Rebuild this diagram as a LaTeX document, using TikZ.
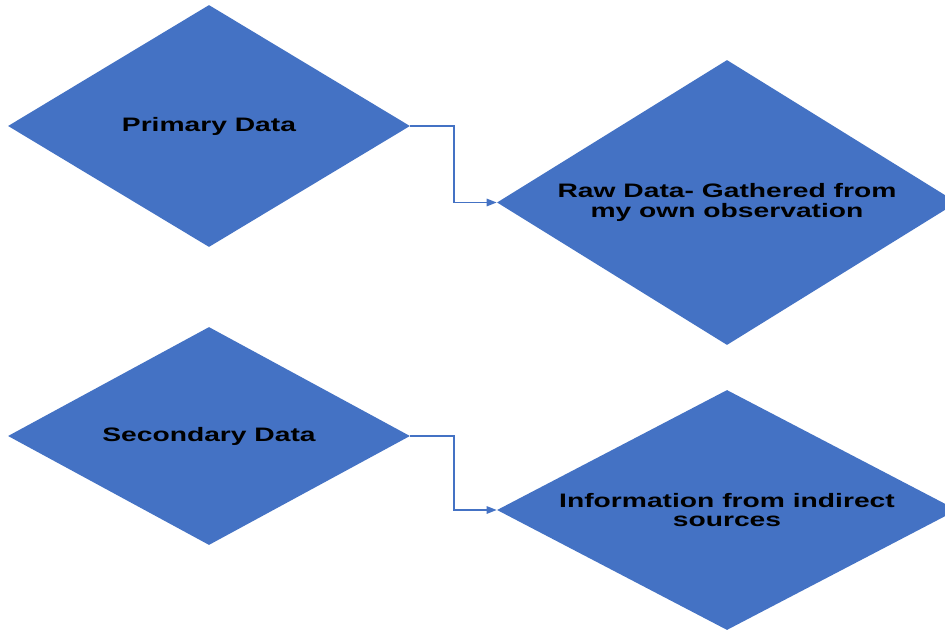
\documentclass[tikz,border=0pt]{standalone}
\usepackage{fontspec}
\setmainfont{Liberation Sans}[FakeStretch=1.45]
\usetikzlibrary{shapes.geometric,arrows.meta,positioning}

\definecolor{dblue}{HTML}{4472C4}

\begin{document}
\begin{tikzpicture}[
  x=0.75pt, y=-0.75pt,
  font=\fontsize{14.6}{14.6}\selectfont\bfseries,
  dia/.style={diamond,fill=dblue,inner sep=0pt,align=center,text=black},
  leftdia/.style={dia,minimum width=301.5pt},
  rightdia/.style={dia,minimum width=345pt},
  arr/.style={-{Triangle[length=7.5pt,width=5.5pt]},draw=dblue,line width=1.2pt},
]

%% ---- Canvas ----------------------------------------------------------------
\clip (0,0) rectangle (945,631);
\fill[white] (0,0) rectangle (945,631);

%% ---- Primary branch --------------------------------------------------------
\node[leftdia, minimum height=181.5pt, aspect=1.66] (primary) at (209,126) {Primary Data};
\node[rightdia, minimum height=213.75pt, aspect=1.61] (raw) at (727,202.5)
  {Raw Data- Gathered from\\my own observation};

%% ---- Secondary branch ------------------------------------------------------
\node[leftdia, minimum height=163.5pt, aspect=1.84] (secondary) at (209,436) {Secondary Data};
\node[rightdia, minimum height=180pt, aspect=1.92] (info) at (727,510)
  {Information from indirect\\sources};

%% ---- Arrows ----------------------------------------------------------------
\draw[arr] (primary.east)   -- ++(44,0) |- (raw.west);
\draw[arr] (secondary.east) -- ++(44,0) |- (info.west);

\end{tikzpicture}
\end{document}
